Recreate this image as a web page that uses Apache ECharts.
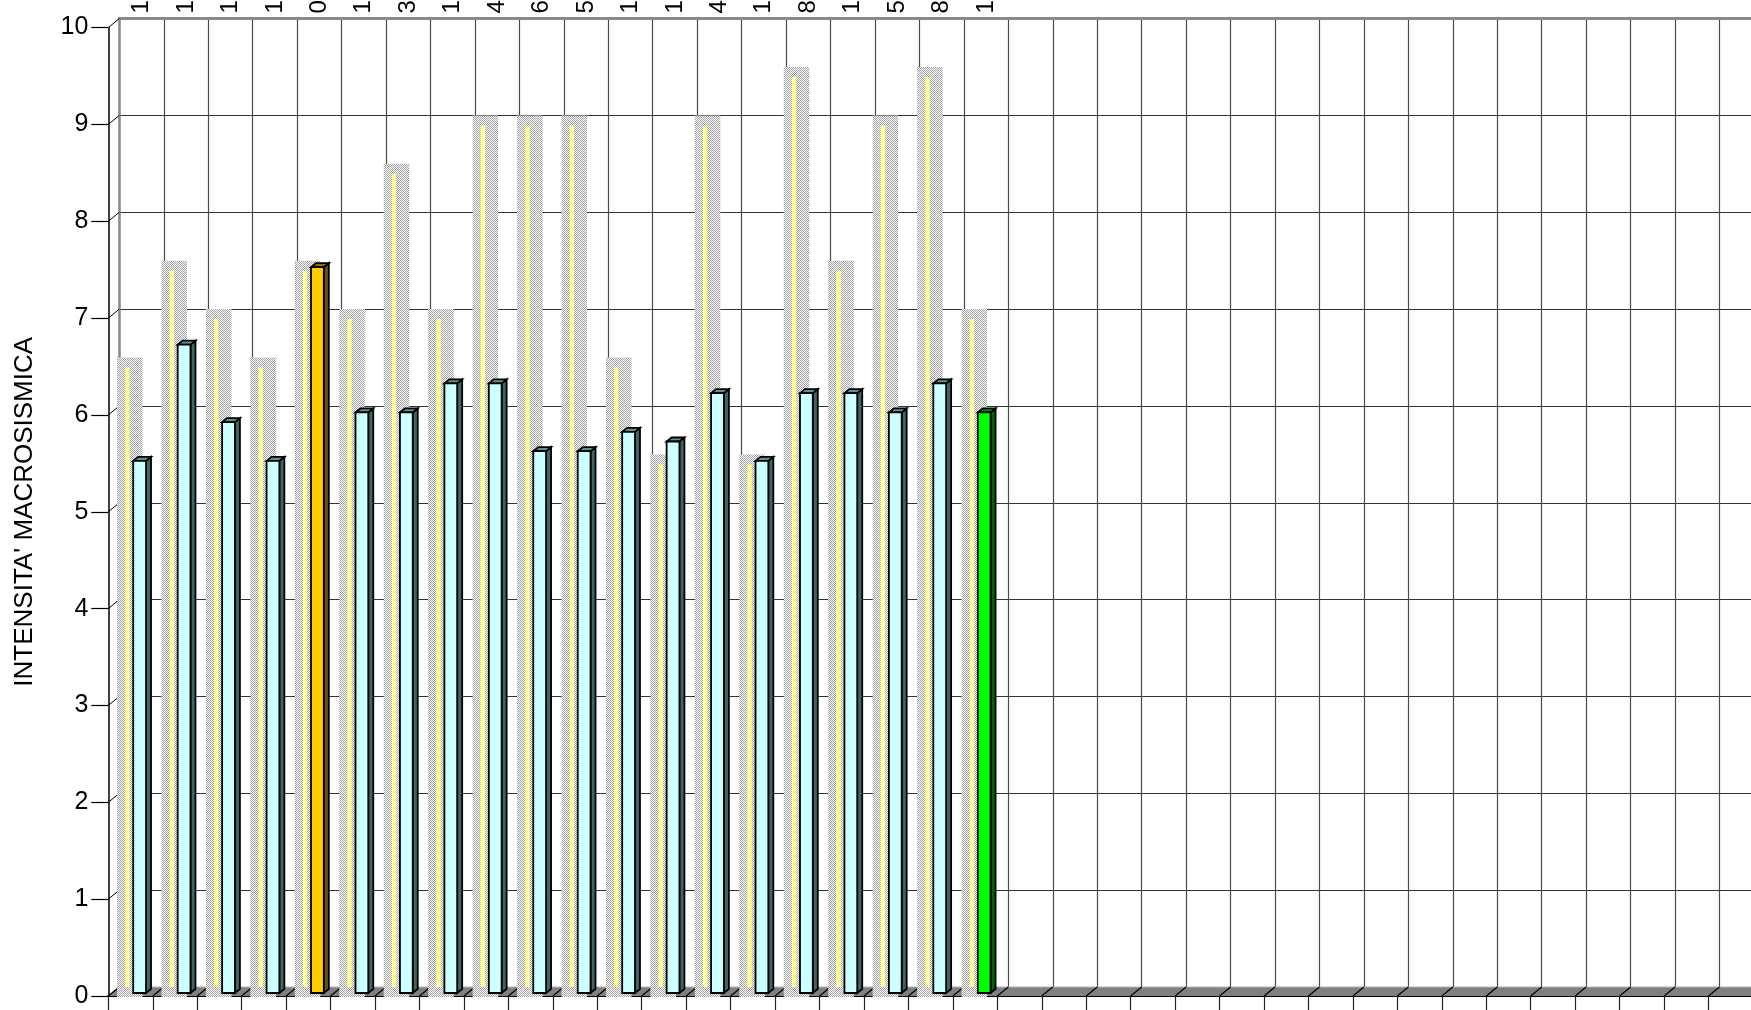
<!DOCTYPE html>
<html><head><meta charset="utf-8">
<script src="https://cdn.jsdelivr.net/npm/echarts@6/dist/echarts.min.js"></script>
<style>html,body{margin:0;padding:0;background:#fff}#c{width:1751px;height:1010px}</style>
</head><body><div id="c"></div>
<script>
// ---- data ----
const eventLabels = ['1','1','1','1','0','1','3','1','4','6','5','1','1','4','1','8','1','5','8','1'];
const siteIntensity = [5.5,6.7,5.9,5.5,7.5,6.0,6.0,6.3,6.3,5.6,5.6,5.8,5.7,6.2,5.5,6.2,6.2,6.0,6.3,6.0];
const epicentralIntensity = [6.5,7.5,7.0,6.5,7.5,7.0,8.5,7.0,9.0,9.0,9.0,6.5,5.5,9.0,5.5,9.5,7.5,9.0,9.5,7.0];
const yTicks = [0,1,2,3,4,5,6,7,8,9,10];
const slotCount = 40;
const mainEventIndex = 4;
const latestEventIndex = 19;
const yTitle = "INTENSITA' MACROSISMICA";

const slotIds = Array.from({length: slotCount}, (_, i) => 's' + i);
const topCategories = slotIds.map((_, i) => eventLabels[i] !== undefined ? eventLabels[i] : '');

// ---- styles ----
const FONT = 'Liberation Sans, Arial, sans-serif';
const DX = -11, DY = 9; // front-plane offset from back wall
const BAND = 44.45;
const pc = document.createElement('canvas'); pc.width = 2; pc.height = 2;
const pctx = pc.getContext('2d');
pctx.fillStyle = '#ffffff'; pctx.fillRect(0,0,2,2);
pctx.fillStyle = '#a0a0a0'; pctx.fillRect(0,0,1,1); pctx.fillRect(1,1,1,1);
const dotted = {image: pc, repeat: 'repeat'};

const palettes = {
  normal: {front:'#CCFFFF', side:'#3E6666', top:'#5F9090'},
  main:   {front:'#FFCC00', side:'#6B5500', top:'#8A6E00'},
  latest: {front:'#00FF00', side:'#006400', top:'#008A00'}
};

function floorItem(params, api) {
  const i = api.value(0);
  const p = api.coord([i, 0]);
  const bw = api.size([1, 0])[0];
  const xb = p[0] - bw / 2, yb = p[1];
  return {type:'group', children:[
    {type:'polygon', shape:{points:[[xb,yb],[xb+bw,yb],[xb+bw+DX,yb+DY],[xb+DX,yb+DY]]}, style:{fill:'#808080'}},
    {type:'line', shape:{x1:xb, y1:yb, x2:xb+bw, y2:yb}, style:{stroke:'#b4b4b4', lineWidth:1}},
    {type:'line', shape:{x1:xb+DX, y1:yb+DY, x2:xb, y2:yb}, style:{stroke:'#000', lineWidth:1.2}}
  ]};
}
function wallItem(params, api) {
  const v = api.value(1);
  const p = api.coord([0, v]);
  const bw = api.size([1, 0])[0];
  const xl = p[0] - bw / 2;
  return {type:'line', shape:{x1:xl+DX, y1:p[1]+DY, x2:xl, y2:p[1]}, style:{stroke:'#000', lineWidth:1}};
}
function epiItem(params, api) {
  const i = api.value(0), v = api.value(1);
  const p = api.coord([i, v]);
  const p0 = api.coord([i, 0]);
  const c = p[0];
  return {type:'group', children:[
    {type:'rect', shape:{x:c-24.5, y:p[1], width:25.5, height:p0[1]+10-p[1]}, style:{fill:dotted}},
    {type:'rect', shape:{x:c-16.5, y:p[1]+10, width:4.5, height:p0[1]-p[1]-10}, style:{fill:'#FFFF99'}}
  ]};
}
function siteItem(params, api) {
  const i = api.value(0), v = api.value(1);
  const p = api.coord([i, v]);
  const p0 = api.coord([i, 0]);
  const c = p[0];
  const pal = i === mainEventIndex ? palettes.main : (i === latestEventIndex ? palettes.latest : palettes.normal);
  const fl = c - 8.3, fr = c + 4.5, d = 5, dd = 4;
  const top = p[1] + 6.5, bot = p0[1] + 6;
  const st = {stroke:'#000', lineWidth:1.8, lineJoin:'miter'};
  return {type:'group', children:[
    {type:'polygon', shape:{points:[[fr,top],[fr+d,top-dd],[fr+d,bot-dd],[fr,bot]]}, style:Object.assign({fill:pal.side}, st)},
    {type:'polygon', shape:{points:[[fl,top],[fl+d,top-dd],[fr+d,top-dd],[fr,top]]}, style:Object.assign({fill:pal.top}, st)},
    {type:'rect', shape:{x:fl, y:top, width:fr-fl, height:bot-top}, style:Object.assign({fill:pal.front}, st)}
  ]};
}

const chart = echarts.init(document.getElementById('c'), null, {renderer:'canvas'});
chart.setOption({
  animation: false,
  backgroundColor: '#ffffff',
  grid: [
    {left:119.3, top:18.6, width:BAND*slotCount, height:968.4, outerBoundsMode:'none', containLabel:false},
    {left:108.3, top:27.6, width:BAND*slotCount, height:968.4, outerBoundsMode:'none', containLabel:false}
  ],
  xAxis: [
    {gridIndex:0, type:'category', data:slotIds, position:'bottom',
     axisLine:{show:false}, axisTick:{show:false}, axisLabel:{show:false},
     splitLine:{show:true, interval:0, lineStyle:{color:'#4a4a4a', width:1.2}}},
    {gridIndex:0, type:'category', data:topCategories, position:'top',
     axisLine:{show:true, lineStyle:{color:'#8a8a8a', width:3}}, axisTick:{show:false},
     axisLabel:{show:true, interval:0, rotate:-90, margin:5, fontSize:24, fontFamily:FONT, color:'#000'},
     splitLine:{show:false}},
    {gridIndex:1, type:'category', data:slotIds, position:'bottom',
     axisLine:{show:true, lineStyle:{color:'#000', width:2}},
     axisTick:{show:true, interval:0, length:16, lineStyle:{color:'#222', width:1.2}},
     axisLabel:{show:false}, splitLine:{show:false}}
  ],
  yAxis: [
    {gridIndex:0, type:'value', min:0, max:10, interval:1,
     axisLine:{show:true, lineStyle:{color:'#8a8a8a', width:2.5}}, axisTick:{show:false}, axisLabel:{show:false},
     splitLine:{show:true, lineStyle:{color:'#333', width:1.2}}},
    {gridIndex:1, type:'value', min:0, max:10, interval:1,
     name:yTitle, nameLocation:'middle', nameGap:70, nameRotate:90,
     nameTextStyle:{fontSize:26, fontFamily:FONT, color:'#000'},
     axisLine:{show:true, lineStyle:{color:'#000', width:1.5}},
     axisTick:{show:true, length:17, lineStyle:{color:'#000', width:1.2}},
     axisLabel:{fontSize:25, margin:20, fontFamily:FONT, color:'#000'},
     splitLine:{show:false}}
  ],
  series: [
    {type:'custom', name:'floor', xAxisIndex:0, yAxisIndex:0, renderItem:floorItem,
     data:slotIds.map((_, i) => [i, 0]), z:1, silent:true},
    {type:'custom', name:'wall', xAxisIndex:0, yAxisIndex:0, renderItem:wallItem,
     data:yTicks.map(v => [0, v]), z:1, silent:true},
    {type:'custom', name:'epicentral', xAxisIndex:0, yAxisIndex:0, renderItem:epiItem,
     data:epicentralIntensity.map((v, i) => [i, v]), z:2},
    {type:'custom', name:'site', xAxisIndex:0, yAxisIndex:0, renderItem:siteItem,
     data:siteIntensity.map((v, i) => [i, v]), z:3}
  ]
});
</script></body></html>
